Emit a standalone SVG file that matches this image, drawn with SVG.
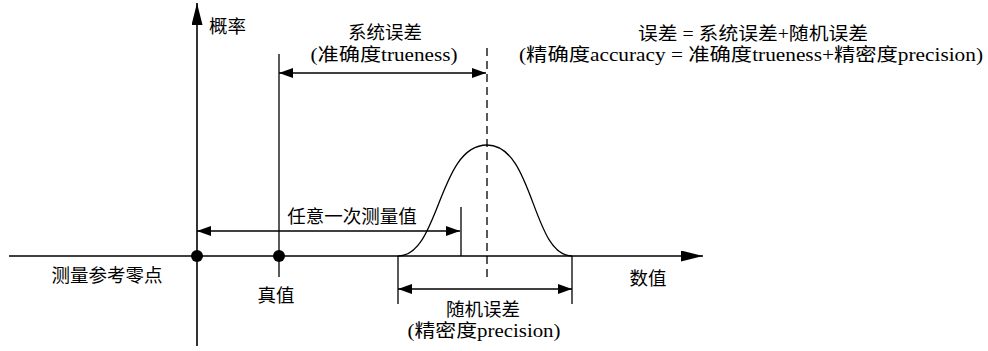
<svg xmlns="http://www.w3.org/2000/svg" width="988" height="351" viewBox="0 0 988 351">
<defs>
<style>
.ln{stroke:#000;stroke-width:1.3;fill:none}
.ax{stroke:#000;stroke-width:1.6;fill:none}
.ds{stroke:#000;stroke-width:1.3;fill:none;stroke-dasharray:8,5}
text{font-family:"Liberation Serif","DejaVu Serif","Noto Sans CJK SC",serif;font-size:18.5px;fill:#000}
.c{text-anchor:middle}
</style>
<marker id="ah" viewBox="0 0 14 10" refX="14" refY="5" markerWidth="14" markerHeight="10" markerUnits="userSpaceOnUse" orient="auto-start-reverse">
<path d="M0,0 L14,5 L0,10 Z" fill="#000"/>
</marker>
<marker id="axh" viewBox="0 0 22 11" refX="22" refY="5.5" markerWidth="22" markerHeight="11" markerUnits="userSpaceOnUse" orient="auto">
<path d="M0,0 L22,5.5 L0,11 Z" fill="#000"/>
</marker>
</defs>
<g id="axes">
<line class="ax" x1="9" y1="256" x2="703" y2="256" marker-end="url(#axh)"/>
<line class="ax" x1="197" y1="346" x2="197" y2="3" marker-end="url(#axh)"/>
</g>
<g id="curve">
<path class="ln" d="M398,256 C440,256 438,145 487,145 C534,145 532,256 572,256"/>
</g>
<g id="connectors">
<line class="ln" x1="279" y1="54" x2="279" y2="277"/>
<line class="ds" x1="487" y1="48" x2="487" y2="278"/>
<line class="ln" x1="461" y1="207" x2="461" y2="256"/>
<line class="ln" x1="398" y1="256" x2="398" y2="304"/>
<line class="ln" x1="572" y1="256" x2="572" y2="304"/>
<line class="ln" x1="279" y1="73" x2="486" y2="73" marker-start="url(#ah)" marker-end="url(#ah)"/>
<line class="ln" x1="197" y1="231" x2="460" y2="231" marker-start="url(#ah)" marker-end="url(#ah)"/>
<line class="ln" x1="398" y1="289" x2="572" y2="289" marker-start="url(#ah)" marker-end="url(#ah)"/>
</g>
<g id="origin"><circle cx="197" cy="256" r="6" fill="#000"/><text class="c" x="107" y="282">测量参考零点</text></g>
<g id="truevalue"><circle cx="279" cy="256" r="6" fill="#000"/><text class="c" x="276" y="302">真值</text></g>
<g id="ylabel"><text x="209" y="33">概率</text></g>
<g id="xlabel"><text class="c" x="648" y="285">数值</text></g>
<g id="systematic"><text class="c" x="385" y="39">系统误差</text><text class="c" x="384" y="61" textLength="147" lengthAdjust="spacingAndGlyphs">(准确度trueness)</text></g>
<g id="measurement"><text class="c" x="352" y="223">任意一次测量值</text></g>
<g id="random"><text class="c" x="483" y="316">随机误差</text><text class="c" x="484" y="337" textLength="153" lengthAdjust="spacingAndGlyphs">(精密度precision)</text></g>
<g id="formula"><text class="c" x="753" y="40" textLength="230" lengthAdjust="spacingAndGlyphs">误差 = 系统误差+随机误差</text><text class="c" x="751" y="61" textLength="464" lengthAdjust="spacingAndGlyphs">(精确度accuracy = 准确度trueness+精密度precision)</text></g>
</svg>
